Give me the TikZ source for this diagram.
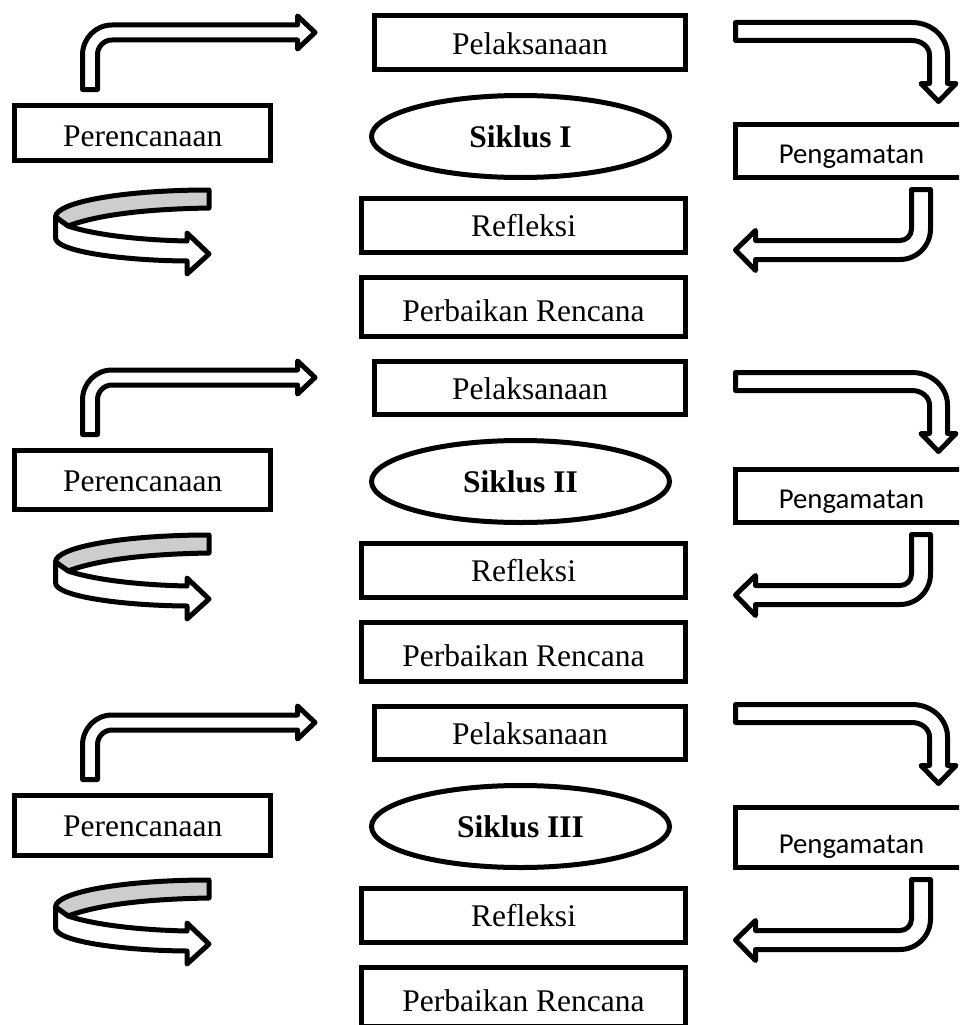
\documentclass[tikz,border=0pt]{standalone}
\usepackage{fontspec}
\setmainfont{Liberation Serif}
\newfontfamily\calibrifont{Carlito}
\usetikzlibrary{shapes.geometric}
\definecolor{curlgray}{RGB}{205,205,205}
\begin{document}
\begin{tikzpicture}[x=1pt,y=-1pt,
  box/.style={draw, line width=5pt, rectangle, inner sep=0pt, fill=white,
    font=\fontsize{31.5}{36}\selectfont, text height=24pt, text depth=0pt},
  oval/.style={draw, line width=5pt, ellipse, inner sep=0pt,
    minimum width=298pt, minimum height=82pt,
    font=\bfseries\fontsize{31.5}{36}\selectfont, text height=21pt, text depth=0pt},
  blockarrow/.style={draw, line width=5pt, line join=round, fill=white},
  curlback/.style={draw, line width=5pt, line join=round, fill=curlgray}]
\useasboundingbox (0,0) rectangle (959,1025);
\clip (0,0) rectangle (959,1025);
\foreach \i/\dy/\rt/\pgt/\peb/\rn in {1/0/0/122/163/I, 2/345/350/122/167/II, 3/690/682/115/168/III}{
  \pgfmathsetmacro{\pery}{(103+\peb)/2}
  \pgfmathsetmacro{\perh}{\peb-103-5}
  \pgfmathsetmacro{\perth}{2*(146.7-(103+\peb)/2)}
  \pgfmathsetmacro{\pgy}{(\pgt+180)/2}
  \pgfmathsetmacro{\pgh}{180-\pgt-5}
  \pgfmathsetmacro{\pgth}{2*(163.3-(\pgt+180)/2)}
  \begin{scope}[shift={(0,\dy)}]
    % left bent arrow
    \draw[blockarrow] (82.5,89.5) -- (82.5,55) .. controls (82.5,38.5) and (95.5,25) .. (112,25)
      -- (297.5,25) -- (297.5,16) -- (315,32.5) -- (297.5,49) -- (297.5,40) -- (112,40)
      .. controls (104,40) and (97.5,46.5) .. (97.5,54.5) -- (97.5,89.5) -- cycle;
    % curl arrow
    \draw[curlback] (209,190) .. controls (124,190) and (55.5,202) .. (55.5,217) -- (68,226)
      .. controls (100,214) and (150,209) .. (209,208) -- cycle;
    \draw[blockarrow] (55.5,217) -- (55.5,238) .. controls (55.5,251) and (120,260.5) .. (187,261)
      -- (187,274) -- (209,254) -- (187,233) -- (187,241)
      .. controls (140,240) and (95,235) .. (68,226) -- cycle;
    % right lower arrow
    \draw[blockarrow] (911.5,189.5) -- (930.5,189.5) -- (930.5,229)
      .. controls (930.5,245.8) and (916.8,259.5) .. (900,259.5) -- (755.5,259.5)
      -- (755.5,270.5) -- (735.5,250) -- (755.5,230.5) -- (755.5,240.5) -- (900,240.5)
      .. controls (906.4,240.5) and (911.5,235.4) .. (911.5,229) -- cycle;
    % nodes
    \node[box, minimum width=256pt, minimum height=\perh pt, text height=\perth pt] (per\i) at (142.75,\pery) {Perencanaan};
    \node[box, minimum width=311pt, minimum height=53.5pt, text height=24pt] (pel\i) at (530,42.75) {Pelaksanaan};
    \node[oval] (sik\i) at (520.5,136.5) {Siklus \rn};
    \node[box, minimum width=324pt, minimum height=54pt, text height=22.5pt] (ref\i) at (523.5,225.5) {Refleksi};
    \node[box, minimum width=324pt, minimum height=59pt, text height=29pt] (perb\i) at (523.5,307) {Perbaikan Rencana};
    \node[box, font=\calibrifont\fontsize{28.8}{34}\selectfont, minimum width=232pt,
      minimum height=\pgh pt, text height=\pgth pt] (pen\i) at (851.5,\pgy) {Pengamatan};
  \end{scope}
  \begin{scope}[shift={(0,\rt)}]
    % right upper arrow
    \draw[blockarrow] (735.5,22.5) -- (912,22.5) .. controls (931.6,22.5) and (947.5,37) .. (947.5,55)
      -- (947.5,83.5) -- (956,83.5) -- (938.5,101.5) -- (921,83.5) -- (929.5,83.5) -- (929.5,55)
      .. controls (929.5,47) and (921.7,40.5) .. (912,40.5) -- (735.5,40.5) -- cycle;
  \end{scope}
}
\end{tikzpicture}
\end{document}
